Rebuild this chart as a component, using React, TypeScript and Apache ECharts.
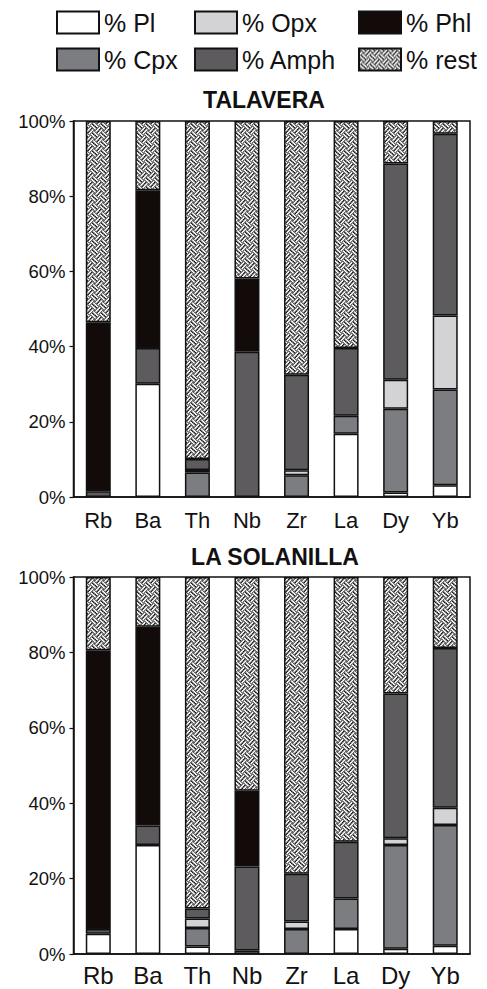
import React, { useEffect, useRef } from 'react';
import * as echarts from 'echarts';

const categories = ['Rb', 'Ba', 'Th', 'Nb', 'Zr', 'La', 'Dy', 'Yb'];
const yTickStep = 20;
const seriesNames = ['% Pl', '% Cpx', '% Opx', '% Amph', '% Phl', '% rest'];

// TALAVERA (segment sizes, bottom to top)
const talaveraPl = [0, 30.1, 0, 0, 0, 16.8, 1.2, 3.1];
const talaveraCpx = [0, 0, 6.5, 0, 5.8, 4.8, 22.3, 25.5];
const talaveraOpx = [0, 0, 0.7, 0, 1.3, 0, 7.7, 19.7];
const talaveraAmph = [1.5, 9.5, 2.9, 38.6, 25.4, 18.0, 57.5, 48.3];
const talaveraPhl = [45.0, 42.0, 0, 19.5, 0, 0, 0, 0];
const talaveraRest = [53.5, 18.4, 89.9, 41.9, 67.5, 60.4, 11.3, 3.4];

// LA SOLANILLA
const solanillaPl = [5.4, 28.9, 2.0, 0, 0, 6.6, 1.4, 2.2];
const solanillaCpx = [0, 0, 4.9, 0.9, 6.6, 8.1, 27.5, 32.0];
const solanillaOpx = [0, 0, 2.5, 0, 2.0, 0, 1.8, 4.6];
const solanillaAmph = [1.2, 5.2, 2.7, 22.3, 12.7, 15.1, 38.4, 42.4];
const solanillaPhl = [74.0, 52.7, 0, 20.1, 0, 0, 0, 0];
const solanillaRest = [19.4, 13.2, 87.9, 56.7, 78.7, 70.2, 30.9, 18.8];

const titles = ['TALAVERA', 'LA SOLANILLA'];

const FONT = '"Liberation Sans", Arial, Helvetica, sans-serif';
const INK = '#111111';

function makeWeave(): string {
  const N = 36;
  const c = 36;
  const cv = document.createElement('canvas');
  cv.width = N;
  cv.height = N;
  const ctx = cv.getContext('2d')!;
  const img = ctx.createImageData(N, N);
  for (let y = 0; y < N; y++) {
    for (let x = 0; x < N; x++) {
      const u = x + y + 1;
      const v = x - y + N;
      const i = Math.floor(u / c);
      const j = Math.floor(v / c);
      const a = u % c;
      const b = v % c;
      const local = (i + j) % 2 === 0 ? a : b;
      const white = (local >= 4.5 && local < 13.5) || (local >= 22.5 && local < 31.5);
      let g: number;
      if (white) g = 255;
      else g = ((x >> 2) + (y >> 2)) % 2 ? 18 : 95;
      const k = (y * N + x) * 4;
      img.data[k] = g;
      img.data[k + 1] = g;
      img.data[k + 2] = g;
      img.data[k + 3] = 255;
    }
  }
  ctx.putImageData(img, 0, 0);
  return cv.toDataURL();
}

export default function App() {
  const ref = useRef<HTMLDivElement>(null);
  useEffect(() => {
    if (!ref.current) return;
    const chart = echarts.init(ref.current, undefined, { renderer: 'svg' });
    const weave = {
      image: makeWeave(),
      repeat: 'repeat',
      imageWidth: 9,
      imageHeight: 9,
    };
    const colors: Record<string, any> = {
      '% Pl': '#ffffff',
      '% Cpx': '#7c7d81',
      '% Opx': '#d3d3d5',
      '% Amph': '#5d5b5e',
      '% Phl': '#130b09',
      '% rest': weave,
    };
    const sets = [
      [talaveraPl, talaveraCpx, talaveraOpx, talaveraAmph, talaveraPhl, talaveraRest],
      [solanillaPl, solanillaCpx, solanillaOpx, solanillaAmph, solanillaPhl, solanillaRest],
    ];
    const series: any[] = [];
    sets.forEach((arrs, gi) => {
      arrs.forEach((arr, si) => {
        const name = seriesNames[si];
        series.push({
          type: 'bar',
          name,
          xAxisIndex: gi,
          yAxisIndex: gi,
          stack: 'g' + gi,
          barWidth: 25,
          data: arr.map((v) => (v === 0 ? '-' : v)),
          itemStyle: { color: colors[name], borderColor: INK, borderWidth: 1.5 },
          emphasis: { disabled: true },
        });
      });
    });
    const legendLayout: [string, number, number][] = [
      ['% Pl', 56, 10],
      ['% Opx', 194, 10],
      ['% Phl', 358, 10],
      ['% Cpx', 56, 47],
      ['% Amph', 194, 47],
      ['% rest', 358, 47],
    ];
    const gridTops = [121, 577];
    const gridHeights = [376, 377];
    const option: any = {
      animation: false,
      backgroundColor: '#ffffff',
      title: titles.map((t, i) => ({
        text: t,
        left: i === 0 ? 264 : 275,
        textAlign: 'center',
        top: i === 0 ? 88 : 545,
        padding: 0,
        textStyle: { fontSize: 23, fontWeight: 'bold', color: INK, fontFamily: FONT },
      })),
      legend: legendLayout.map(([name, left, top]) => ({
        data: [name],
        left,
        top,
        padding: 0,
        itemWidth: 42,
        itemHeight: 22,
        icon: 'rect',
        selectedMode: false,
        textStyle: { fontSize: 25, color: INK, fontFamily: FONT },
      })),
      grid: [0, 1].map((i) => ({
        left: 73.5,
        top: gridTops[i],
        width: 396.5,
        height: gridHeights[i],
        show: true,
        borderColor: INK,
        borderWidth: 1.5,
        backgroundColor: 'transparent',
      })),
      xAxis: [0, 1].map((i) => ({
        type: 'category',
        gridIndex: i,
        data: categories,
        axisTick: { show: false },
        axisLine: { lineStyle: { color: INK, width: 1.5 } },
        axisLabel: {
          fontSize: i === 0 ? 22 : 24,
          color: INK,
          margin: i === 0 ? 12 : 9,
          fontFamily: FONT,
        },
      })),
      yAxis: [0, 1].map((i) => ({
        type: 'value',
        gridIndex: i,
        min: 0,
        max: 100,
        interval: yTickStep,
        axisLine: { show: true, lineStyle: { color: INK, width: 1.5 } },
        axisTick: { show: true, length: 4, lineStyle: { color: INK, width: 1.2 } },
        splitLine: { show: false },
        axisLabel: {
          formatter: '{value}%',
          fontSize: 18.5,
          color: INK,
          margin: 8,
          fontFamily: FONT,
        },
      })),
      series,
    };
    chart.setOption(option);
    return () => chart.dispose();
  }, []);
  return (
    <div
      ref={ref}
      style={{ position: 'fixed', left: 0, top: 0, width: 487, height: 989, background: '#fff' }}
    />
  );
}
